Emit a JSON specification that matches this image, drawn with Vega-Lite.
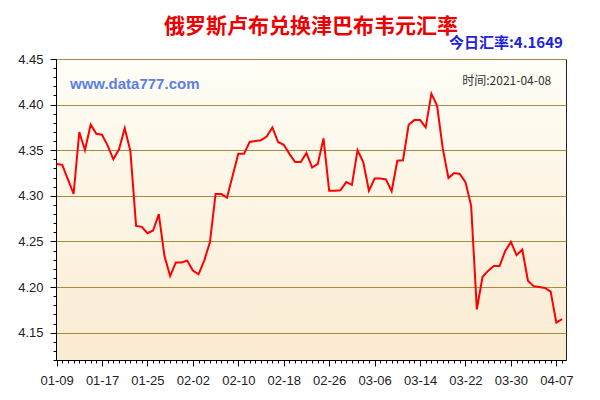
{
  "$schema": "https://vega.github.io/schema/vega-lite/v6.json",
  "width": 510,
  "height": 301,
  "autosize": "none",
  "padding": {"left": 56, "top": 59, "right": 34, "bottom": 40},
  "background": "#ffffff",
  "title": {
    "text": "俄罗斯卢布兑换津巴布韦元汇率",
    "font": "Noto Sans CJK SC",
    "fontSize": 21,
    "fontWeight": "bold",
    "color": "#EE0000",
    "anchor": "middle",
    "offset": -1
  },
  "config": {
    "view": {
      "stroke": "#222222",
      "strokeWidth": 1,
      "fill": {"gradient": "linear", "x1": 0, "y1": 0, "x2": 0, "y2": 1, "stops": [{"offset": 0, "color": "#FFFEF6"}, {"offset": 1, "color": "#FAEBD2"}]}
    },
    "axis": {
      "labelFont": "Liberation Sans",
      "labelFontSize": 13,
      "labelColor": "#222222",
      "domainColor": "#000000",
      "tickColor": "#000000",
      "title": null
    }
  },
  "layer": [
    {
      "data": {
        "values": [
          {"date": "2021-01-09", "rate": 4.335},
          {"date": "2021-01-10", "rate": 4.334},
          {"date": "2021-01-11", "rate": 4.318},
          {"date": "2021-01-12", "rate": 4.302},
          {"date": "2021-01-13", "rate": 4.370},
          {"date": "2021-01-14", "rate": 4.350},
          {"date": "2021-01-15", "rate": 4.378},
          {"date": "2021-01-16", "rate": 4.368},
          {"date": "2021-01-17", "rate": 4.367},
          {"date": "2021-01-18", "rate": 4.355},
          {"date": "2021-01-19", "rate": 4.340},
          {"date": "2021-01-20", "rate": 4.351},
          {"date": "2021-01-21", "rate": 4.374},
          {"date": "2021-01-22", "rate": 4.349},
          {"date": "2021-01-23", "rate": 4.267},
          {"date": "2021-01-24", "rate": 4.266},
          {"date": "2021-01-25", "rate": 4.259},
          {"date": "2021-01-26", "rate": 4.262},
          {"date": "2021-01-27", "rate": 4.280},
          {"date": "2021-01-28", "rate": 4.234},
          {"date": "2021-01-29", "rate": 4.212},
          {"date": "2021-01-30", "rate": 4.227},
          {"date": "2021-01-31", "rate": 4.227},
          {"date": "2021-02-01", "rate": 4.229},
          {"date": "2021-02-02", "rate": 4.218},
          {"date": "2021-02-03", "rate": 4.214},
          {"date": "2021-02-04", "rate": 4.229},
          {"date": "2021-02-05", "rate": 4.249},
          {"date": "2021-02-06", "rate": 4.302},
          {"date": "2021-02-07", "rate": 4.302},
          {"date": "2021-02-08", "rate": 4.298},
          {"date": "2021-02-09", "rate": 4.322},
          {"date": "2021-02-10", "rate": 4.346},
          {"date": "2021-02-11", "rate": 4.346},
          {"date": "2021-02-12", "rate": 4.359},
          {"date": "2021-02-13", "rate": 4.360},
          {"date": "2021-02-14", "rate": 4.361},
          {"date": "2021-02-15", "rate": 4.365},
          {"date": "2021-02-16", "rate": 4.375},
          {"date": "2021-02-17", "rate": 4.359},
          {"date": "2021-02-18", "rate": 4.356},
          {"date": "2021-02-19", "rate": 4.346},
          {"date": "2021-02-20", "rate": 4.337},
          {"date": "2021-02-21", "rate": 4.337},
          {"date": "2021-02-22", "rate": 4.347},
          {"date": "2021-02-23", "rate": 4.331},
          {"date": "2021-02-24", "rate": 4.335},
          {"date": "2021-02-25", "rate": 4.363},
          {"date": "2021-02-26", "rate": 4.3055},
          {"date": "2021-02-27", "rate": 4.3055},
          {"date": "2021-02-28", "rate": 4.306},
          {"date": "2021-03-01", "rate": 4.315},
          {"date": "2021-03-02", "rate": 4.312},
          {"date": "2021-03-03", "rate": 4.350},
          {"date": "2021-03-04", "rate": 4.337},
          {"date": "2021-03-05", "rate": 4.3055},
          {"date": "2021-03-06", "rate": 4.319},
          {"date": "2021-03-07", "rate": 4.319},
          {"date": "2021-03-08", "rate": 4.318},
          {"date": "2021-03-09", "rate": 4.305},
          {"date": "2021-03-10", "rate": 4.3385},
          {"date": "2021-03-11", "rate": 4.339},
          {"date": "2021-03-12", "rate": 4.378},
          {"date": "2021-03-13", "rate": 4.383},
          {"date": "2021-03-14", "rate": 4.383},
          {"date": "2021-03-15", "rate": 4.375},
          {"date": "2021-03-16", "rate": 4.412},
          {"date": "2021-03-17", "rate": 4.399},
          {"date": "2021-03-18", "rate": 4.352},
          {"date": "2021-03-19", "rate": 4.3195},
          {"date": "2021-03-20", "rate": 4.325},
          {"date": "2021-03-21", "rate": 4.324},
          {"date": "2021-03-22", "rate": 4.315},
          {"date": "2021-03-23", "rate": 4.289},
          {"date": "2021-03-24", "rate": 4.1755},
          {"date": "2021-03-25", "rate": 4.211},
          {"date": "2021-03-26", "rate": 4.218},
          {"date": "2021-03-27", "rate": 4.223},
          {"date": "2021-03-28", "rate": 4.223},
          {"date": "2021-03-29", "rate": 4.2396},
          {"date": "2021-03-30", "rate": 4.2495},
          {"date": "2021-03-31", "rate": 4.235},
          {"date": "2021-04-01", "rate": 4.241},
          {"date": "2021-04-02", "rate": 4.207},
          {"date": "2021-04-03", "rate": 4.201},
          {"date": "2021-04-04", "rate": 4.200},
          {"date": "2021-04-05", "rate": 4.199},
          {"date": "2021-04-06", "rate": 4.195},
          {"date": "2021-04-07", "rate": 4.161},
          {"date": "2021-04-08", "rate": 4.1649}
        ]
      },
      "mark": {"type": "line", "color": "#FF0000", "strokeWidth": 2},
      "encoding": {
        "x": {
          "field": "date",
          "type": "temporal",
          "scale": {"type": "utc", "domain": [1610141760000, 1617900480000]},
          "axis": {
            "tickCount": {"interval": "day", "step": 1},
            "labelExpr": "((datum.value - 1610150400000) / 86400000) % 8 == 0 ? utcFormat(datum.value, '%m-%d') : ''",
            "tickSize": {"condition": {"test": "((datum.value - 1610150400000) / 86400000) % 8 == 0", "value": 6}, "value": 3},
            "labelOverlap": false,
            "labelFlush": false,
            "labelPadding": 8,
            "grid": false
          }
        },
        "y": {
          "field": "rate",
          "type": "quantitative",
          "scale": {"domain": [4.12, 4.45], "nice": false, "zero": false},
          "axis": {
            "values": [4.12, 4.13, 4.14, 4.15, 4.16, 4.17, 4.18, 4.19, 4.2, 4.21, 4.22, 4.23, 4.24, 4.25, 4.26, 4.27, 4.28, 4.29, 4.3, 4.31, 4.32, 4.33, 4.34, 4.35, 4.36, 4.37, 4.38, 4.39, 4.4, 4.41, 4.42, 4.43, 4.44, 4.45],
            "tickCount": 100,
            "labelExpr": "abs(datum.value * 20 - round(datum.value * 20)) < 0.001 ? format(datum.value, '.2f') : ''",
            "tickSize": {"condition": {"test": "abs(datum.value * 20 - round(datum.value * 20)) < 0.001", "value": 6}, "value": 3},
            "grid": true,
            "gridColor": "#A98B3F",
            "gridWidth": 1,
            "gridOpacity": {"condition": {"test": "abs(datum.value * 20 - round(datum.value * 20)) < 0.001", "value": 1}, "value": 0},
            "labelOverlap": false,
            "labelFlush": false,
            "labelPadding": 7
          }
        }
      }
    },
    {
      "data": {
        "values": [
          {"label": "www.data777.com", "t": 1610354400000, "v": 4.4226}
        ]
      },
      "mark": {"type": "text", "font": "Liberation Sans", "fontSize": 15, "fontWeight": "bold", "color": "#5B7FE6", "align": "left", "baseline": "middle"},
      "encoding": {
        "text": {"field": "label"},
        "x": {"field": "t", "type": "temporal"},
        "y": {"field": "v", "type": "quantitative"}
      }
    },
    {
      "data": {
        "values": [
          {"label": "时间:2021-04-08", "t": 1617675840000, "v": 4.4259}
        ]
      },
      "mark": {"type": "text", "font": "Noto Sans CJK SC", "fontSize": 12, "color": "#333333", "align": "right", "baseline": "middle"},
      "encoding": {
        "text": {"field": "label"},
        "x": {"field": "t", "type": "temporal"},
        "y": {"field": "v", "type": "quantitative"}
      }
    },
    {
      "data": {
        "values": [
          {"label": "今日汇率:4.1649", "t": 1617853800000, "v": 4.4675}
        ]
      },
      "mark": {"type": "text", "font": "Noto Sans CJK SC", "fontSize": 15, "fontWeight": "bold", "color": "#1E22DC", "align": "right", "baseline": "middle"},
      "encoding": {
        "text": {"field": "label"},
        "x": {"field": "t", "type": "temporal"},
        "y": {"field": "v", "type": "quantitative"}
      }
    }
  ]
}
